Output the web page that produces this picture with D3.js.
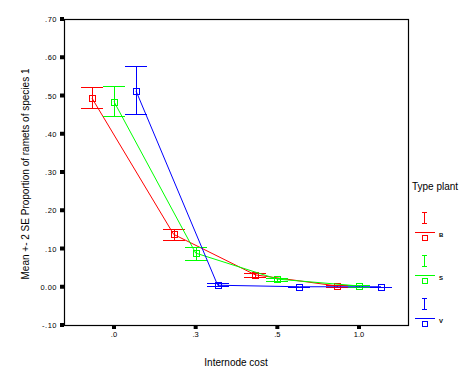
<!DOCTYPE html>
<html>
<head>
<meta charset="utf-8">
<script src="https://cdn.jsdelivr.net/npm/d3@7"></script>
<style>
  body { margin: 0; background: #fff; }
  svg { display: block; }
  text { font-family: "Liberation Sans", Arial, sans-serif; }
</style>
</head>
<body>
<script>
// categories and series
var categories = [".0", ".3", ".5", "1.0"];
var seriesNames = ["B", "S", "V"];
var seriesColors = ["#ff0000", "#00ff00", "#0000ff"];

// means and error bar limits (mean +- 2 SE)
var bMean = [0.493, 0.137, 0.031, 0.002];
var bLow = [0.467, 0.122, 0.025, 0.000];
var bHigh = [0.522, 0.151, 0.036, 0.004];
var sMean = [0.484, 0.088, 0.020, 0.002];
var sLow = [0.446, 0.070, 0.015, 0.000];
var sHigh = [0.525, 0.105, 0.024, 0.004];
var vMean = [0.512, 0.004, 0.000, 0.000];
var vLow = [0.452, 0.002, 0.000, 0.000];
var vHigh = [0.577, 0.010, 0.000, 0.000];

var yTicks = [0.7, 0.6, 0.5, 0.4, 0.3, 0.2, 0.1, 0.0, -0.1];
var yTickLabels = [".70", ".60", ".50", ".40", ".30", ".20", ".10", "0.00", "-.10"];

var w = 473, h = 379;
var plotLeft = 64, plotRight = 408, plotTop = 19, plotBottom = 325;

var series = [
    { name: seriesNames[0], color: seriesColors[0], mean: bMean, low: bLow, high: bHigh },
    { name: seriesNames[1], color: seriesColors[1], mean: sMean, low: sLow, high: sHigh },
    { name: seriesNames[2], color: seriesColors[2], mean: vMean, low: vLow, high: vHigh }
];

var xScale = d3.scalePoint()
    .domain(categories)
    .range([114, 359]);
var yScale = d3.scaleLinear()
    .domain([-0.1, 0.7])
    .range([plotBottom, plotTop]);
var offset = 22;

var svg = d3.select("body")
    .append("svg")
    .attr("width", w)
    .attr("height", h);

// frame
svg.append("rect")
    .attr("x", plotLeft + 0.5)
    .attr("y", plotTop + 0.5)
    .attr("width", plotRight - plotLeft)
    .attr("height", plotBottom - plotTop)
    .attr("fill", "none")
    .attr("stroke", "#000")
    .attr("stroke-width", 1.2);

// y axis ticks as small squares
svg.selectAll(".ytick")
    .data(yTicks)
    .enter()
    .append("rect")
    .attr("x", plotLeft - 4)
    .attr("y", function (d) { return yScale(d) - 2; })
    .attr("width", 4)
    .attr("height", 4)
    .attr("fill", "#000");
svg.selectAll(".ylab")
    .data(yTicks)
    .enter()
    .append("text")
    .attr("x", 57)
    .attr("y", function (d) { return yScale(d) + 3; })
    .attr("text-anchor", "end")
    .attr("font-size", 7.5)
    .attr("letter-spacing", 0.5)
    .text(function (d, i) { return yTickLabels[i]; });

// x axis ticks
svg.selectAll(".xtick")
    .data(categories)
    .enter()
    .append("rect")
    .attr("x", function (d) { return xScale(d) - 2; })
    .attr("y", plotBottom + 1)
    .attr("width", 4)
    .attr("height", 3)
    .attr("fill", "#000");
svg.selectAll(".xlab")
    .data(categories)
    .enter()
    .append("text")
    .attr("x", function (d) { return xScale(d); })
    .attr("y", 337)
    .attr("text-anchor", "middle")
    .attr("font-size", 7.5)
    .text(function (d) { return d; });

// axis titles
svg.append("text")
    .attr("x", 236)
    .attr("y", 366)
    .attr("text-anchor", "middle")
    .attr("font-size", 10)
    .text("Internode cost");
svg.append("text")
    .attr("transform", "translate(29,174) rotate(-90)")
    .attr("text-anchor", "middle")
    .attr("font-size", 10)
    .text("Mean +- 2 SE Proportion of ramets of species 1");

// series
series.forEach(function (s, si) {
    var dx = (si - 1) * offset;
    var pts = categories.map(function (c, i) {
        return { x: xScale(c) + dx, mean: s.mean[i], low: s.low[i], high: s.high[i] };
    });
    var g = svg.append("g")
        .attr("stroke", s.color)
        .attr("fill", "none")
        .attr("stroke-width", 1);

    g.append("path")
        .attr("d", d3.line()
            .x(function (d) { return d.x; })
            .y(function (d) { return yScale(d.mean); })(pts));

    // error bars
    g.selectAll(".vbar")
        .data(pts)
        .enter()
        .append("line")
        .attr("x1", function (d) { return Math.round(d.x) + 0.5; })
        .attr("x2", function (d) { return Math.round(d.x) + 0.5; })
        .attr("y1", function (d) { return yScale(d.low); })
        .attr("y2", function (d) { return yScale(d.high); })
        .attr("shape-rendering", "crispEdges");
    g.selectAll(".cap")
        .data(pts.flatMap(function (d) {
            return [{ x: d.x, v: d.low }, { x: d.x, v: d.high }];
        }))
        .enter()
        .append("line")
        .attr("x1", function (d) { return d.x - 11; })
        .attr("x2", function (d) { return d.x + 11; })
        .attr("y1", function (d) { return Math.round(yScale(d.v)) + 0.5; })
        .attr("y2", function (d) { return Math.round(yScale(d.v)) + 0.5; })
        .attr("shape-rendering", "crispEdges");

    // mean markers
    g.selectAll(".mark")
        .data(pts)
        .enter()
        .append("rect")
        .attr("x", function (d) { return Math.round(d.x) - 3 + 0.5; })
        .attr("y", function (d) { return Math.round(yScale(d.mean)) - 3 + 0.5; })
        .attr("width", 6)
        .attr("height", 6)
        .attr("shape-rendering", "crispEdges");
});

// legend
svg.append("text")
    .attr("x", 412)
    .attr("y", 190)
    .attr("font-size", 10)
    .text("Type plant");

var legend = svg.selectAll(".legend")
    .data(series)
    .enter()
    .append("g")
    .attr("transform", function (d, i) { return "translate(0," + (i * 43) + ")"; });
legend.each(function (s) {
    var g = d3.select(this);
    var ls = g.append("g")
        .attr("stroke", s.color)
        .attr("fill", "none")
        .attr("shape-rendering", "crispEdges");
    ls.append("line").attr("x1", 424.5).attr("x2", 424.5).attr("y1", 212).attr("y2", 224);
    ls.append("line").attr("x1", 422).attr("x2", 427).attr("y1", 212.5).attr("y2", 212.5);
    ls.append("line").attr("x1", 422).attr("x2", 427).attr("y1", 223.5).attr("y2", 223.5);
    ls.append("line").attr("x1", 415).attr("x2", 435).attr("y1", 232.5).attr("y2", 232.5);
    ls.append("rect").attr("x", 422.5).attr("y", 235.5).attr("width", 5).attr("height", 5);
    g.append("text")
        .attr("x", 439)
        .attr("y", 237)
        .attr("font-size", 6)
        .attr("font-weight", "bold")
        .text(s.name);
});
</script>
</body>
</html>
